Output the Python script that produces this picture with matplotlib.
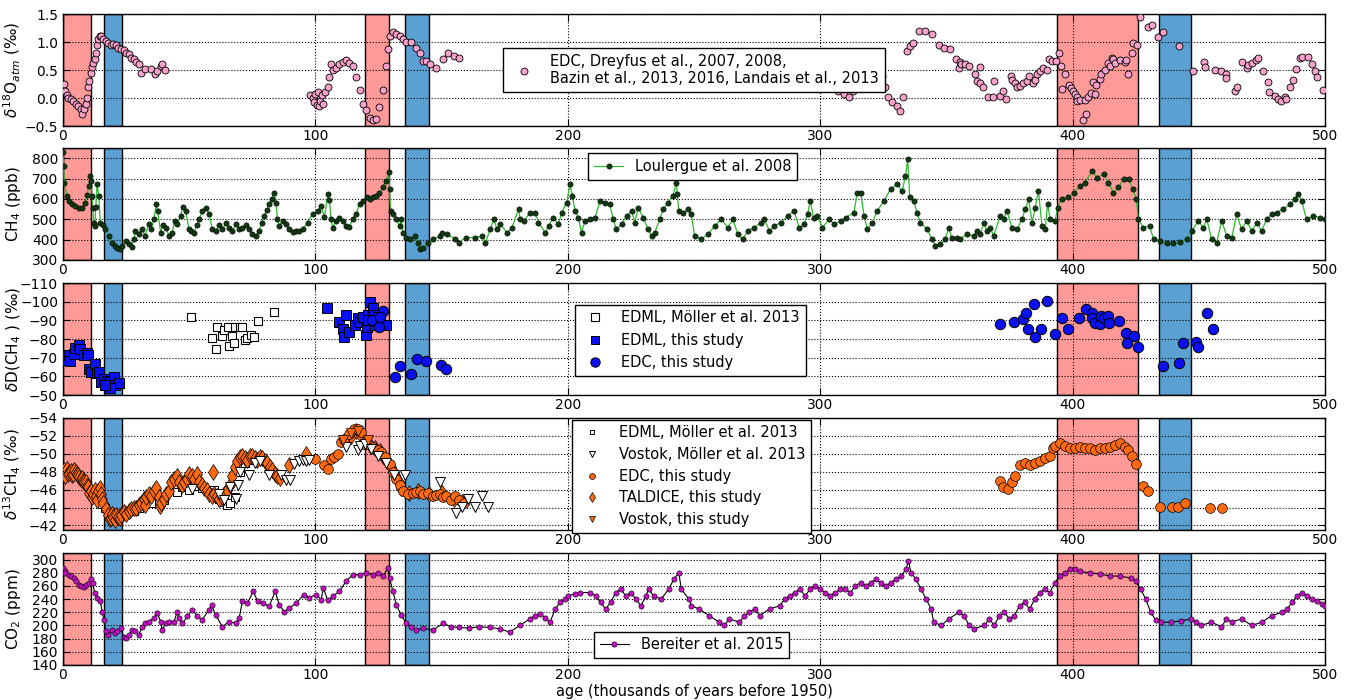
import numpy as np
import matplotlib.pyplot as plt

# shaded intervals (ka)
red_spans = [(0, 11), (119.5, 129), (393.7, 426)]
blue_spans = [(16.1, 23.5), (135.6, 145.2), (434.4, 447.1)]

# d18O of atmospheric O2, EDC
d18o_age = [0.5, 1, 1.5, 2, 3, 4, 5, 6, 7, 7.5,
            8.5, 9, 9.5, 10, 10.5, 11, 11.5, 12, 12.5, 13,
            13.5, 14, 14.5, 15, 16, 17, 18, 19, 20, 21,
            22, 23, 24, 25, 26, 27, 28, 29, 30, 31,
            32.7, 35, 36.4, 37.4, 38.7, 39.3, 40.4,
            98, 99, 99.5, 100, 100.5, 101, 101.5, 102, 102.5, 103,
            104, 105, 105.6, 106.2, 106.9, 108.2, 109.5, 110.9, 112.2, 113.5,
            114.8, 116.2, 117.5, 118.8, 120.1, 121.5, 122.8, 124.1, 125.4, 126.7,
            127.8, 128.7, 129.4, 130.7, 132.1, 133.4, 134.7, 136, 138, 140,
            141.3, 142.6, 144, 145.3, 147.9, 150.6, 152.6, 155, 157,
            307, 309.6, 311.6, 313.2, 324.4, 325.7, 327, 328.3, 330.3, 331.6,
            332.9, 334.3, 335.6, 336.6, 339.3, 341.5, 344.2, 347, 349, 351.4,
            353.8, 355, 355.3, 356, 357.3, 359, 361.3, 362, 363.3, 363.5,
            364.6, 366.6, 368.6, 368.8, 371.2, 372.5, 373.6, 375.6, 376.2, 377.2,
            377.8, 379.1, 380.4, 381.8, 382.8, 384.4, 385, 386, 387, 388.4,
            389.7, 390.8, 391.7, 393.4, 394.7, 395.6, 396, 397, 398.7, 399.2,
            400.3, 400.9, 401.6, 401.8, 402.9, 404.2, 404.9, 405.5, 406.2, 407.5,
            408.2, 408.9, 409.2, 410.8, 411.1, 412.8, 414.1, 414.8, 415.5, 416.1,
            416.8, 418.8, 420.7, 421.1, 421.8, 423.4, 424, 425.6, 426.7, 430,
            431.3, 434, 435.7, 442.3, 447.8, 452, 452.4, 456.4, 459, 460.8,
            461, 464.3, 465, 467, 469, 469.6, 471, 472.7, 473.6, 475.3,
            477.5, 477.9, 480.2, 481.5, 482.4, 484.1, 484.5, 486.1, 487.5, 488.5,
            490.1, 490.8, 493.4, 494.7, 496, 496.7, 499.3]
d18o_val = [0.25, 0.12, 0.05, 0.0, -0.02, -0.05, -0.1, -0.15, -0.2, -0.28,
            -0.2, -0.1, 0.0, 0.2, 0.3, 0.45, 0.55, 0.62, 0.7, 0.8,
            0.95, 1.05, 1.1, 1.1, 1.05, 1.02, 0.98, 0.95, 0.97, 0.95,
            0.9, 0.88, 0.85, 0.8, 0.78, 0.72, 0.7, 0.65, 0.6, 0.45,
            0.52, 0.52, 0.42, 0.48, 0.57, 0.6, 0.5,
            0.05, 0.0, -0.08, 0.08, -0.12, 0.1, -0.15, -0.05, 0.05, -0.1,
            0.1, 0.2, 0.38, 0.6, 0.5, 0.53, 0.6, 0.65, 0.68, 0.63,
            0.57, 0.38, 0.14, -0.1, -0.22, -0.35, -0.4, -0.37, -0.16, 0.14,
            0.57, 0.87, 1.1, 1.17, 1.14, 1.1, 1.05, 1.0, 1.0, 0.9,
            0.81, 0.66, 0.66, 0.6, 0.54, 0.69, 0.81, 0.75, 0.72,
            0.12, 0.08, 0.01, 0.13, 0.39, 0.2, 0.02, -0.07, -0.14, -0.23,
            0.02, 0.84, 0.93, 0.98, 1.2, 1.2, 1.14, 0.95, 0.9, 0.87,
            0.69, 0.54, 0.64, 0.6, 0.6, 0.57, 0.42, 0.3, 0.55, 0.27,
            0.2, 0.02, 0.01, 0.3, 0.04, 0.13, -0.02, 0.4, 0.33, 0.27,
            0.2, 0.22, 0.27, 0.3, 0.4, 0.27, 0.33, 0.42, 0.48, 0.54,
            0.5, 0.69, 0.66, 0.66, 0.8, 0.57, 0.16, 0.42, 0.24, 0.18,
            0.13, 0.08, 0.02, -0.06, -0.03, -0.4, -0.03, -0.28, 0.02, 0.09,
            0.28, 0.08, 0.24, 0.34, 0.42, 0.5, 0.62, 0.57, 0.72, 0.69,
            0.63, 0.67, 0.64, 0.67, 0.43, 0.81, 0.99, 0.94, 1.44, 1.26,
            1.3, 1.09, 1.17, 0.92, 0.48, 0.64, 0.55, 0.5, 0.48, 0.42,
            0.36, 0.12, 0.2, 0.64, 0.53, 0.59, 0.63, 0.67, 0.72, 0.49,
            0.28, 0.1, 0.03, -0.02, -0.06, 0.02, -0.02, 0.2, 0.33, 0.52,
            0.72, 0.74, 0.74, 0.6, 0.48, 0.38, 0.15]

# CH4, Loulergue et al. 2008
ch4_age = [0, 0.3, 0.5, 1.6, 2.5, 3.6, 4.9, 6.2, 7.5, 8.9,
           9.6, 10.2, 10.9, 11.3, 11.5, 11.8, 12.2, 12.6, 13.0, 13.5,
           14.2, 14.8, 15.8, 16.8, 18.1, 19.5, 20.5, 21.5, 22.5, 23.4,
           24.8, 26.1, 27.2, 28.1, 28.7, 30.0, 31.4, 32.5, 34.0, 35.0,
           36.0, 37.0, 37.5, 38.7, 39.5, 40.7, 42.0, 43.3, 44.2, 45.3,
           46.6, 47.5, 48.6, 49.9, 50.8, 51.9, 53.0, 53.9, 55.2, 56.6,
           57.9, 59.2, 60.5, 61.8, 63.2, 64.5, 65.8, 67.0, 68.5, 69.8,
           71.1, 72.5, 73.8, 75.0, 76.4, 77.7, 78.7, 79.7, 80.7, 81.7,
           82.7, 83.7, 84.4, 85.0, 85.7, 87.0, 88.3, 89.7, 91.0, 92.3,
           93.6, 95.0, 96.9, 98.9, 101.0, 102.3, 103.6, 104.9, 105.6, 106.2,
           106.9, 108.2, 109.5, 110.9, 112.2, 113.5, 114.8, 116.2, 117.5, 118.8,
           120.5, 121.7, 122.8, 124.1, 125.4, 126.7, 128.1, 129.1, 129.4, 129.8,
           130.7, 132.1, 133.4, 134.0, 134.7, 136.0, 137.4, 139.3, 140.6, 141.3,
           142.6, 144.6, 146.6, 149.3, 150.3, 152.2, 155.5, 156.8, 159.5, 163.4,
           166.1, 167.4, 169.3, 170.7, 172.0, 173.3, 176.0, 177.9, 180.5, 181.2,
           182.5, 185.1, 187.1, 188.4, 191.1, 192.4, 194.3, 196.3, 197.6, 199.6,
           200.9, 201.8, 202.9, 204.2, 205.5, 206.8, 208.8, 210.8, 212.8, 214.7,
           216.7, 218.0, 219.3, 221.3, 223.3, 225.3, 226.6, 227.9, 229.9, 231.8,
           233.2, 234.5, 236.4, 237.8, 239.7, 241.7, 243.0, 243.4, 244.0, 245.7,
           247.6, 248.9, 250.3, 252.9, 255.5, 258.2, 260.8, 263.4, 265.4, 267.4,
           269.3, 271.3, 273.9, 276.6, 277.9, 279.9, 281.8, 284.5, 287.1, 289.7,
           291.7, 293.7, 295.0, 296.1, 297.4, 298.9, 300.9, 303.6, 305.5, 308.2,
           310.1, 313.4, 314.7, 316.1, 317.4, 318.7, 320.7, 322.6, 325.3, 327.9,
           330.5, 332.5, 333.8, 334.7, 335.5, 337.1, 338.4, 339.7, 342.4, 344.3,
           345.7, 347.6, 349.6, 350.9, 352.2, 354.2, 355.5, 358.2, 360.8, 362.1,
           363.5, 364.8, 366.1, 367.4, 368.7, 371.4, 372.7, 374.0, 376.0, 378.0,
           379.9, 381.3, 382.6, 384.0, 385.2, 386.5, 387.9, 389.2, 390.1, 391.2,
           393.1, 394.1, 395.8, 398.4, 400.4, 403.0, 405.0, 407.7, 409.6, 412.3,
           414.2, 416.2, 418.2, 420.2, 422.2, 423.9, 425.2, 426.1, 428.1, 430.5,
           432.1, 434.7, 437.3, 440.0, 442.6, 445.3, 447.2, 449.9, 451.8, 453.2,
           455.1, 457.1, 459.1, 461.1, 463.1, 465.0, 467.0, 469.0, 471.0, 473.0,
           474.9, 476.9, 478.9, 480.9, 483.5, 486.2, 488.1, 489.4, 490.8, 492.7,
           495.4, 498.0, 500.0]
ch4_val = [828, 762, 680, 615, 590, 574, 566, 555, 557, 582,
           620, 664, 713, 690, 615, 557, 484, 467, 560, 672,
           615, 484, 470, 451, 418, 385, 370, 361, 355, 369,
           393, 377, 365, 402, 443, 430, 451, 420, 475, 450,
           500, 574, 541, 434, 470, 459, 420, 434, 490, 475,
           516, 560, 541, 451, 440, 434, 470, 500, 541, 557,
           525, 451, 443, 470, 451, 480, 459, 440, 475, 450,
           459, 470, 451, 430, 418, 443, 480, 516, 545, 574,
           600, 631, 582, 500, 467, 492, 475, 451, 438, 443,
           440, 451, 484, 525, 541, 566, 510, 623, 593, 500,
           459, 492, 508, 492, 467, 464, 500, 525, 574, 590,
           607, 600, 607, 615, 631, 656, 689, 730, 648, 541,
           525, 500, 467, 500, 434, 410, 402, 418, 385, 352,
           361, 385, 402, 418, 434, 426, 402, 385, 410, 410,
           418, 385, 451, 500, 451, 475, 434, 459, 549, 500,
           492, 533, 533, 484, 434, 467, 508, 475, 533, 582,
           672, 615, 541, 508, 434, 492, 500, 508, 590, 582,
           574, 500, 451, 475, 516, 541, 484, 557, 508, 451,
           418, 434, 500, 549, 582, 615, 680, 623, 541, 533,
           549, 525, 418, 402, 426, 467, 500, 459, 500, 426,
           402, 443, 459, 484, 500, 443, 467, 484, 516, 541,
           459, 475, 525, 590, 508, 516, 459, 500, 475, 492,
           508, 533, 631, 631, 516, 451, 484, 541, 590, 648,
           672, 639, 713, 795, 607, 590, 533, 484, 451, 402,
           369, 377, 402, 459, 410, 410, 405, 426, 418, 443,
           426, 484, 443, 459, 418, 516, 500, 541, 459, 451,
           500, 549, 598, 484, 557, 639, 467, 451, 574, 500,
           492, 557, 598, 607, 631, 664, 680, 738, 705, 721,
           680, 631, 656, 697, 697, 648, 598, 500, 459, 467,
           402, 393, 382, 382, 389, 402, 443, 492, 459, 500,
           402, 385, 492, 418, 410, 525, 451, 492, 443, 484,
           443, 500, 525, 533, 549, 574, 598, 623, 590, 500,
           516, 508, 500]

# dD(CH4)
edml_m13_dd_age = [50.6, 58.9, 60.5, 61.2, 62.9, 63.8, 65.2, 65.8, 66.9, 67.8,
                   68.1, 70, 71.1, 72, 73.1, 74.4, 75.8, 77.1, 83.7]
edml_m13_dd_val = [-92, -80.3, -74.4, -86.5, -81.6, -85, -86.5, -76, -81.6, -77.8,
                   -86.5, -86.5, -86.5, -79.7, -80.3, -82.4, -81.2, -89.6, -94.3]
edml_dd_age = [0.5, 1.2, 2.3, 2.9, 4.2, 4.9, 6.2, 6.9, 8.2, 9.5,
               9.9, 10.5, 11.3, 12.8, 13.5, 14.4, 15.2, 16.2, 17.5, 18.1,
               18.8, 20.1, 20.8, 22.1, 18.8, 16.8,
               104.5, 109.5, 110.9, 111.5, 112.2, 113.5, 115.9, 116.8, 117.7, 118.8,
               119.9, 120.5, 121, 121.5, 122.1, 122.8, 123.4, 124.8, 123.8, 120.8,
               128.1]
edml_dd_val = [-68.5, -71.2, -71.2, -68, -72, -75, -77, -74.4, -71.2, -72.6,
               -71.6, -64, -62.3, -66.8, -62, -62.3, -56.9, -58.4, -57.3, -56,
               -57, -59.6, -55.2, -56.6, -53.7, -55.2,
               -96.4, -88.9, -85.6, -81.2, -92.6, -83.5, -87.5, -91.1, -88.9, -91.8,
               -82.4, -86.5, -92.7, -100, -90.2, -96.4, -93.1, -91.8, -87.5, -90.2,
               -87.3]
edc_dd_age = [122.5, 125.4, 126.7, 125.8, 131.4, 133.4, 138, 140.4, 144, 149.9,
              151.9,
              371.4, 376.9, 380.2, 381.7, 382.2, 384.6, 385.2, 387.6, 389.8, 393.1,
              396, 398.4, 402.4, 405.3, 407.9, 407.7, 409, 410.7, 411.2, 412.3,
              414, 414.5, 418.6, 421.2, 424.5, 421.5, 425.8, 435.8, 442, 443.6,
              449, 449.9, 453.2, 455.5]
edc_dd_val = [-90.2, -86.5, -95, -91.8, -59.6, -65.4, -61.1, -69.5, -68, -65.9,
              -63.7,
              -88, -89.2, -90.7, -94.1, -85.3, -98.9, -81.1, -85.3, -100.5, -82.9,
              -91, -85.3, -91, -95.9, -94.1, -91.4, -88.6, -88, -92.5, -91,
              -92.5, -88.6, -89.5, -83.4, -81.4, -77.8, -75.6, -65.7, -67, -77.8,
              -78.4, -75.6, -94.2, -85.6]

# d13C(CH4)
edml_m13_dc_age = [14, 15.5, 16.5, 25, 28, 30, 33, 35, 40, 45,
                   47, 50, 52, 55, 58, 60, 62, 63, 64, 65,
                   66, 68, 70, 72, 75]
edml_m13_dc_val = [-45.3, -44.4, -44.0, -43.3, -43.6, -43.9, -44.8, -44.5, -44.8, -45.7,
                   -46.3, -46.0, -46.4, -46.2, -45.8, -46.0, -45.0, -44.6, -44.8, -44.3,
                   -44.5, -45.2, -48.0, -49.0, -49.3]
vostok_m13_dc_age = [51.3, 62, 64, 66, 68.5, 69.5, 70, 73.8, 76, 78,
                     81.7, 86.4, 88.3, 89.9, 91.7, 93.6, 95, 96.3, 97.6, 112.2,
                     116.8, 117.5, 119.5, 122, 125, 128, 131, 135.4, 149.3, 155.7,
                     158, 160.5, 163.2, 166, 168.4]
vostok_m13_dc_val = [-46.1, -45.5, -44.8, -46.3, -45.0, -46.5, -48.0, -47.6, -49.0, -49.2,
                     -47.6, -47.6, -47.1, -47.1, -48.9, -49.2, -49.3, -49.2, -49.3, -50.8,
                     -50.4, -50.9, -51.1, -50.5, -49.8, -49.0, -47.6, -47.6, -46.8, -43.4,
                     -44.1, -45.0, -44.1, -45.3, -44.1]
edc_dc_age = [100, 103.6, 104.9, 106.2, 107.5, 108.9, 110.2, 111.5, 113.5, 115.5,
              116.8, 118.1, 118.8, 120.8, 122.8, 124.8, 126.1, 127.4, 129.4, 130.7,
              132.1, 133.4, 134.7, 136.7, 138.5, 140, 141.3, 142.6, 144.5, 146.6,
              148, 149.3, 150.5, 151.9, 153.9, 155.5, 157, 159,
              371.3, 372.5, 374.4, 376, 377.2, 379.2, 381.2, 383.1, 385.1, 387.1,
              389.1, 391.1, 392.3, 393.1, 395, 397, 399, 401, 403, 405,
              406.9, 408.9, 410.9, 412.9, 414.9, 416.8, 418.8, 420.8, 422, 423.6,
              425.1, 427.9, 429.9, 434.6, 439.4, 441.8, 444.5, 454.4, 459.2]
edc_dc_val = [-49.4, -48.7, -48.3, -49.4, -49.6, -50.0, -51.3, -51.7, -52.2, -52.8,
              -52.8, -52.4, -51.1, -51.1, -50.8, -50.4, -50.2, -49.6, -48.9, -48.0,
              -47.2, -46.5, -45.9, -45.5, -45.6, -45.7, -45.8, -45.5, -45.6, -45.3,
              -45.4, -45.5, -45.2, -45.3, -44.9, -45.3, -44.8, -44.5,
              -47.0, -46.3, -46.1, -46.8, -47.5, -48.7, -49.0, -48.7, -49.0, -49.2,
              -49.5, -49.8, -50.7, -50.9, -51.2, -50.9, -50.7, -50.7, -50.8, -50.6,
              -50.6, -50.4, -50.6, -50.6, -50.8, -51.0, -51.2, -50.8, -50.4, -49.8,
              -48.9, -46.4, -45.8, -44.1, -44.1, -44.1, -44.5, -43.9, -43.9]
taldice_dc_age = [0, 0.5, 1, 1.5, 2, 2.5, 3, 3.5, 4, 4.5,
                  5, 5.5, 6, 6.5, 7, 7.5, 8, 8.5, 9, 9.5,
                  10, 10.5, 11, 11.5, 12, 12.5, 13, 13.5, 14, 14.5,
                  15, 15.5, 16, 17, 18, 18.5, 19, 19.5, 20, 20.5,
                  21, 22, 22.5, 23, 24, 25, 26, 27, 28, 29,
                  30, 31, 32, 32.5, 33, 34, 35, 36, 37, 38,
                  38.5, 39, 40, 41, 42, 43, 44, 45, 46, 47,
                  48, 49, 50, 51, 52, 53, 54, 55, 56, 57,
                  58, 59, 59.5, 60, 61, 62, 63, 64, 65, 66,
                  67, 68, 69, 70, 71, 72, 73, 74, 75, 76,
                  77, 78, 79, 80, 81, 82, 83, 84, 85, 86,
                  89.7, 96.3, 112, 114, 116, 117.5, 119.5, 121.5, 123.5, 125.5,
                  127, 128.5, 130, 131.5, 133, 134, 137, 140.5, 145, 150,
                  155, 158]
taldice_dc_val = [-47.8, -48.2, -47.5, -48.3, -47.7, -47.9, -48.1, -47.6, -47.8, -48.2,
                  -48.0, -47.8, -47.6, -47.4, -47.2, -47.3, -47.0, -46.9, -46.8, -46.4,
                  -46.3, -45.6, -45.8, -45.2, -45.5, -46.0, -45.3, -44.9, -45.8, -46.2,
                  -45.5, -45.0, -44.5, -43.8, -43.2, -42.7, -42.8, -43.3, -43.0, -42.6,
                  -43.2, -43.0, -42.8, -43.2, -43.5, -43.3, -43.6, -43.8, -43.9, -44.0,
                  -44.3, -44.5, -45.0, -44.3, -45.2, -45.5, -45.3, -45.8, -46.2, -45.2,
                  -44.2, -44.5, -45.0, -45.5, -45.8, -46.8, -47.2, -47.5, -46.8, -46.5,
                  -46.8, -47.2, -47.8, -47.5, -47.2, -47.8, -46.8, -46.5, -46.2, -46.0,
                  -45.5, -45.3, -48.0, -45.5, -45.3, -45.0, -45.2, -45.5, -46.0, -46.5,
                  -47.5, -48.5, -49.2, -49.6, -49.8, -49.5, -49.3, -49.7, -49.8, -49.5,
                  -49.3, -49.6, -49.5, -49.2, -49.0, -48.5, -48.2, -47.8, -47.5, -47.3,
                  -48.7, -50.0, -51.5, -52.0, -52.5, -52.2, -51.3, -51.0, -50.6, -50.3,
                  -49.8, -49.2, -48.5, -47.6, -46.8, -46.2, -45.6, -45.8, -45.5, -45.6,
                  -45.0, -44.6]
vostok_dc_age = [111, 114, 117, 121]
vostok_dc_val = [-51.5, -52.3, -52.6, -51.5]

# CO2, Bereiter et al. 2015
co2_age = [0, 0.7, 0.9, 2.3, 3.2, 4.2, 5.2, 6.2, 7.3, 8.2,
           9.3, 10.2, 11.3, 11.8, 12.6, 13.5, 14.8, 15.5, 16.2, 17.1,
           17.9, 19.5, 20.5, 21.5, 22.8, 24.1, 25, 26.1, 27.4, 28.7,
           30.1, 31.4, 32.7, 34, 36, 37.4, 38.7, 39.3, 40.7, 42,
           44, 45.3, 46, 47.3, 49.3, 51.3, 53.2, 55.2, 57.9, 58.9,
           60.5, 63.2, 65.8, 68.5, 69.8, 71.1, 73.1, 75.4, 77.1, 79.1,
           81.7, 84.1, 85.7, 87.7, 89.7, 92.3, 95.6, 97.6, 100.3, 102.3,
           103.2, 104.9, 106.9, 109.5, 112.2, 114.8, 117.5, 120.1, 122.8, 124.8,
           126.8, 128.7, 129.4, 130.7, 132.1, 134, 136, 138, 140, 142.6,
           146.6, 150.6, 153.9, 157, 161, 165, 169, 173, 177, 181,
           185, 187, 189, 191, 193, 195, 197, 199, 200, 203,
           205, 209, 211, 213, 215, 217, 219, 221, 223, 225,
           227, 229, 231, 232, 234, 237, 240, 242, 244, 245,
           248, 249, 252, 256, 260, 262, 264, 268, 270, 272,
           274, 276, 280, 284, 286, 288, 290, 292, 294, 296,
           298, 300, 302, 304, 306, 308, 310, 312, 314, 316,
           318, 320, 322, 324, 326, 328, 330, 332, 334, 335,
           336, 338, 340, 342, 344, 345, 348, 351, 355, 357,
           359, 361, 365, 367, 369, 371, 373, 375, 377, 379,
           381, 383, 385, 387, 389, 391, 393, 395, 397, 399,
           401, 403, 407, 411, 415, 419, 423, 425, 427, 429,
           431, 433, 435, 439, 443, 447, 449, 451, 455, 459,
           461, 463, 467, 471, 475, 479, 483, 485, 487, 489,
           491, 493, 495, 497, 499, 500]
co2_val = [287, 282, 280, 277, 275, 272, 268, 262, 260, 259,
           262, 264, 270, 264, 249, 242, 237, 221, 209, 191,
           186, 193, 188, 191, 196, 183, 181, 186, 193, 191,
           186, 198, 203, 206, 211, 219, 206, 193, 203, 206,
           206, 221, 211, 203, 214, 224, 214, 209, 224, 231,
           216, 198, 206, 203, 211, 237, 234, 252, 237, 234,
           229, 252, 231, 221, 226, 234, 247, 242, 247, 239,
           257, 238, 244, 252, 267, 277, 277, 280, 277, 280,
           275, 287, 272, 252, 231, 216, 203, 198, 193, 196,
           193, 203, 198, 197, 196, 198, 197, 195, 190, 200,
           210, 215, 218, 212, 205, 225, 235, 240, 245, 248,
           250, 250, 245, 235, 225, 235, 250, 255, 245, 250,
           240, 230, 245, 255, 245, 240, 255, 270, 280, 255,
           240, 230, 225, 215, 205, 200, 210, 205, 215, 220,
           225, 215, 225, 230, 240, 245, 250, 255, 245, 255,
           260, 255, 250, 245, 250, 255, 255, 250, 260, 265,
           260, 265, 270, 265, 260, 265, 270, 275, 285, 298,
           280, 270, 255, 240, 225, 205, 200, 210, 220, 215,
           200, 195, 200, 210, 200, 215, 220, 210, 215, 230,
           235, 225, 240, 250, 255, 250, 265, 275, 280, 285,
           285, 282, 280, 278, 275, 275, 272, 268, 255, 240,
           220, 208, 205, 205, 207, 210, 205, 200, 205, 198,
           210, 205, 210, 200, 205, 215, 220, 225, 235, 245,
           250, 245, 240, 237, 232, 230]

plt.rcParams['font.family'] = 'DejaVu Sans'
plt.rcParams['mathtext.fontset'] = 'dejavusans'

fig = plt.figure(figsize=(13.51, 7.0), dpi=100)
left, width, height = 0.0466, 0.9341, 0.16
bottoms = [0.82, 0.6286, 0.4357, 0.2429, 0.05]
axes = [fig.add_axes([left, b, width, height]) for b in bottoms]

for ax in axes:
    for a, b in red_spans:
        ax.axvspan(a, b, facecolor='#ff9a98', edgecolor='k', lw=1, zorder=1)
    for a, b in blue_spans:
        ax.axvspan(a, b, facecolor='#5aa0d2', edgecolor='k', lw=1, zorder=1)
    ax.set_xlim(0, 500)
    ax.set_xticks(np.arange(0, 501, 100))
    ax.set_axisbelow('line')
    ax.grid(True, ls=':', color='k', lw=0.8)
    ax.tick_params(direction='in', top=True, right=True, length=5, labelsize=10)
    ax.tick_params(axis='x', pad=2.5)
    for s in ax.spines.values():
        s.set_linewidth(1)
    ax.yaxis.set_label_coords(-0.032, 0.5)

leg_kw = dict(fancybox=False, framealpha=1, edgecolor='k', fontsize=10.5, numpoints=1)

# d18O atm
ax = axes[0]
ax.plot(d18o_age, d18o_val, ls='none', marker='o', ms=5, mfc='#f7a1cb', mec='k', mew=0.6,
        zorder=3, label='EDC, Dreyfus et al., 2007, 2008,\nBazin et al., 2013, 2016, Landais et al., 2013')
ax.set_ylim(-0.5, 1.5)
ax.set_yticks([-0.5, 0.0, 0.5, 1.0, 1.5])
ax.set_ylabel(r'$\delta^{18}$O$_{atm}$ (‰)', fontsize=11)
ax.legend(loc='center', bbox_to_anchor=(0.5, 0.5), **leg_kw)

# CH4
ax = axes[1]
ax.plot(ch4_age, ch4_val, ls='-', color='#2db82d', lw=0.9, marker='o', ms=3.8,
        mfc='#123a12', mec='k', mew=0.4, zorder=3, label='Loulergue et al. 2008')
ax.set_ylim(300, 850)
ax.set_yticks(np.arange(300, 801, 100))
ax.set_ylabel(r'CH$_4$ (ppb)', fontsize=11)
ax.legend(loc='upper center', bbox_to_anchor=(0.499, 0.955), borderaxespad=0, **leg_kw)

# dD(CH4)
ax = axes[2]
ax.plot(edml_m13_dd_age, edml_m13_dd_val, ls='none', marker='s', ms=6, mfc='white', mec='k',
        mew=0.8, zorder=3, label='EDML, Möller et al. 2013')
ax.plot(edml_dd_age, edml_dd_val, ls='none', marker='s', ms=7, mfc='#0a10f0', mec='k',
        mew=0.7, zorder=3, label='EDML, this study')
ax.plot(edc_dd_age, edc_dd_val, ls='none', marker='o', ms=7.5, mfc='#0a10f0', mec='k',
        mew=0.7, zorder=3, label='EDC, this study')
ax.set_ylim(-50, -110)
ax.set_yticks(np.arange(-110, -49, 10))
ax.set_ylabel(r'$\delta$D(CH$_4$ ) (‰)', fontsize=11)
ax.legend(loc='center', bbox_to_anchor=(0.497, 0.49), markerscale=0.9, **leg_kw)

# d13C(CH4)
ax = axes[3]
orange = '#ff6a10'
ax.plot(edml_m13_dc_age, edml_m13_dc_val, ls='none', marker='s', ms=6, mfc='white', mec='k',
        mew=0.7, zorder=3, label='EDML, Möller et al. 2013')
ax.plot(taldice_dc_age, taldice_dc_val, ls='none', marker='d', ms=8, mfc=orange, mec='k',
        mew=0.5, zorder=3, label='TALDICE, this study')
ax.plot(edc_dc_age, edc_dc_val, ls='none', marker='o', ms=7, mfc=orange, mec='k',
        mew=0.5, zorder=3, label='EDC, this study')
ax.plot(vostok_m13_dc_age, vostok_m13_dc_val, ls='none', marker='v', ms=6.5, mfc='white', mec='k',
        mew=0.7, zorder=3, label='Vostok, Möller et al. 2013')
ax.plot(vostok_dc_age, vostok_dc_val, ls='none', marker='v', ms=7, mfc=orange, mec='k',
        mew=0.5, zorder=3, label='Vostok, this study')
ax.set_ylim(-41.5, -54)
ax.set_yticks(np.arange(-54, -41, 2))
ax.set_ylabel(r'$\delta^{13}$CH$_4$ (‰)', fontsize=11)
h, l = ax.get_legend_handles_labels()
order = [0, 3, 2, 1, 4]
ax.legend([h[i] for i in order], [l[i] for i in order], loc='upper center',
          bbox_to_anchor=(0.498, 0.985), borderaxespad=0, markerscale=0.6,
          labelspacing=0.45, **leg_kw)

# CO2
ax = axes[4]
ax.plot(co2_age, co2_val, ls='-', color='k', lw=0.8, marker='o', ms=3.8, mfc='#c010c0',
        mec='k', mew=0.4, zorder=3, label='Bereiter et al. 2015')
ax.set_ylim(140, 310)
ax.set_yticks(np.arange(140, 301, 20))
ax.set_ylabel(r'CO$_2$ (ppm)', fontsize=11)
ax.legend(loc='lower center', bbox_to_anchor=(0.498, 0.06), borderaxespad=0, **leg_kw)

fig.text(0.5137, 0.002, 'age (thousands of years before 1950)', fontsize=10.5,
         ha='center', va='bottom')

fig.savefig('out.png', dpi=100)
